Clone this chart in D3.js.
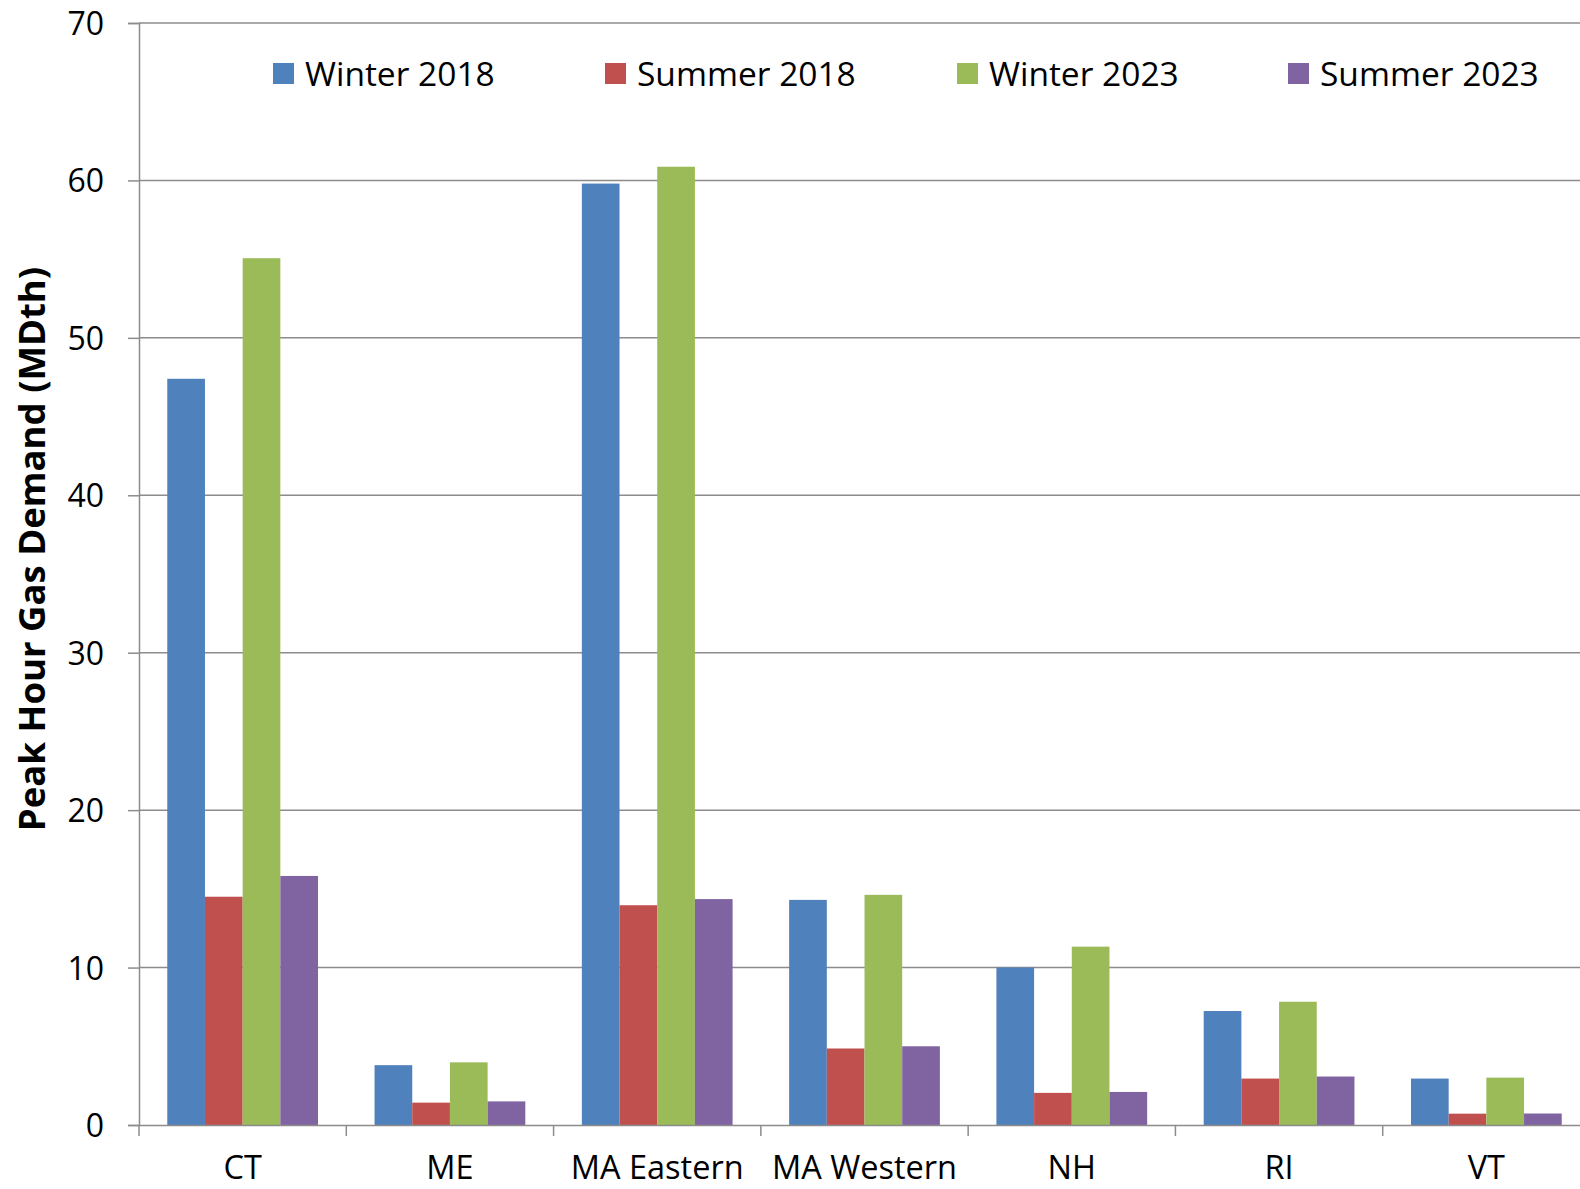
<!DOCTYPE html>
<html>
<head>
<meta charset="utf-8">
<script src="https://cdn.jsdelivr.net/npm/d3@7"></script>
<style>
  body { margin: 0; background: #fff; }
  text { font-family: "Open Sans", "Noto Sans", sans-serif; fill: #000; }
</style>
</head>
<body>
<div id="chart"></div>
<script>
// data
var regions = ["CT", "ME", "MA Eastern", "MA Western", "NH", "RI", "VT"];
var seriesNames = ["Winter 2018", "Summer 2018", "Winter 2023", "Summer 2023"];
var winter2018 = [47.4, 3.8, 59.8, 14.3, 10.0, 7.24, 2.95];
var summer2018 = [14.5, 1.42, 13.96, 4.86, 2.04, 2.95, 0.72];
var winter2023 = [55.06, 3.98, 60.87, 14.62, 11.33, 7.83, 3.01];
var summer2023 = [15.82, 1.5, 14.35, 5.0, 2.1, 3.08, 0.73];
var yTicks = [0, 10, 20, 30, 40, 50, 60, 70];
var colors = ["#4F81BD", "#C0504D", "#9BBB59", "#8064A2"];

var svgWidth = 1580;
var svgHeight = 1189;

var margin = { top: 23, left: 139, bottom: 64, right: -10 };
var width = svgWidth - margin.left - margin.right;
var height = svgHeight - margin.top - margin.bottom;

var allSeries = [winter2018, summer2018, winter2023, summer2023];

var svg = d3.select("#chart")
  .append("svg")
  .attr("width", svgWidth)
  .attr("height", svgHeight);

var chartGroup = svg.append("g")
  .attr("transform", `translate(${margin.left}, ${margin.top})`);

var xScale = d3.scaleBand()
  .domain(regions)
  .range([0, width])
  .paddingInner(0)
  .paddingOuter(0);

// 150% gap like excel: 4 bars + 1.5 bar gap
var xInner = d3.scaleBand()
  .domain(seriesNames)
  .range([0, xScale.bandwidth()])
  .paddingInner(0)
  .paddingOuter(0.75);

var yScale = d3.scaleLinear()
  .domain([0, 70])
  .range([height, 0]);

// gridlines
chartGroup.append("g")
  .selectAll("line")
  .data(yTicks.slice(1))
  .enter()
  .append("line")
  .attr("x1", 0)
  .attr("x2", width)
  .attr("y1", d => yScale(d))
  .attr("y2", d => yScale(d))
  .attr("stroke", "#8c8c8c")
  .attr("stroke-width", 1.5);

// bars
var groups = chartGroup.selectAll(".region")
  .data(regions)
  .enter()
  .append("g")
  .attr("class", "region")
  .attr("transform", d => `translate(${xScale(d)}, 0)`);

groups.selectAll("rect")
  .data((d, i) => seriesNames.map((s, j) => ({ series: s, value: allSeries[j][i], color: colors[j] })))
  .enter()
  .append("rect")
  .attr("x", d => xInner(d.series))
  .attr("width", xInner.bandwidth())
  .attr("y", d => yScale(d.value))
  .attr("height", d => height - yScale(d.value))
  .attr("fill", d => d.color);

// left axis
var leftAxis = d3.axisLeft(yScale)
  .tickValues(yTicks)
  .tickSize(11)
  .tickPadding(24);

var yAxis = chartGroup.append("g").call(leftAxis);
yAxis.select(".domain").attr("stroke", "#8c8c8c").attr("stroke-width", 1.5);
yAxis.selectAll(".tick line").attr("stroke", "#8c8c8c").attr("stroke-width", 1.5);
yAxis.selectAll(".tick text")
  .style("font-size", "32px")
  .attr("dy", "0.36em");

// bottom axis
var bottomAxis = d3.axisBottom(xScale)
  .tickSize(0)
  .tickPadding(31);

var xAxis = chartGroup.append("g")
  .attr("transform", `translate(0, ${height})`)
  .call(bottomAxis);
xAxis.select(".domain").attr("stroke", "#8c8c8c").attr("stroke-width", 1.5);
xAxis.selectAll(".tick text")
  .style("font-size", "32.5px");

// ticks between categories
xAxis.selectAll(".sep")
  .data(regions)
  .enter()
  .append("line")
  .attr("class", "sep")
  .attr("x1", d => xScale(d))
  .attr("x2", d => xScale(d))
  .attr("y1", 0)
  .attr("y2", 11)
  .attr("stroke", "#8c8c8c")
  .attr("stroke-width", 1.5);

// y axis label
svg.append("text")
  .attr("transform", `translate(45, 549) rotate(-90)`)
  .attr("text-anchor", "middle")
  .style("font-size", "36.5px")
  .style("font-weight", "bold")
  .text("Peak Hour Gas Demand (MDth)");

// legend
var legendX = [273, 605, 957, 1288];
var legend = svg.selectAll(".legend")
  .data(seriesNames)
  .enter()
  .append("g")
  .attr("class", "legend")
  .attr("transform", (d, i) => `translate(${legendX[i]}, 63)`);

legend.append("rect")
  .attr("width", 21)
  .attr("height", 21)
  .attr("fill", (d, i) => colors[i]);

legend.append("text")
  .attr("x", 32)
  .attr("y", 11)
  .attr("dy", "0.36em")
  .style("font-size", "33.5px")
  .text(d => d);
</script>
</body>
</html>
